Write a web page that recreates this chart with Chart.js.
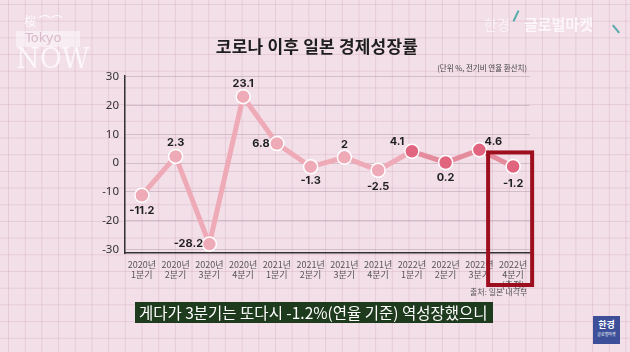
<!DOCTYPE html>
<html><head><meta charset="utf-8">
<script src="https://cdn.jsdelivr.net/npm/chart.js@4.4.0/dist/chart.umd.min.js"></script>
<style>
html,body{margin:0;padding:0;}
body{width:630px;height:352px;overflow:hidden;position:relative;
background-color:#f3dfe8;
background-image:linear-gradient(to right, rgba(205,165,185,0.35) 1px, transparent 1px),linear-gradient(to bottom, rgba(205,165,185,0.35) 1px, transparent 1px);
background-size:16.7px 16.7px;background-position:8px 4px;
font-family:"Noto Sans CJK KR","Noto Sans",sans-serif;}
#c{position:absolute;left:0;top:0;}
.t{position:absolute;white-space:nowrap;}
</style></head><body>
<canvas id="c" width="630" height="352"></canvas>
<div class="t" style="left:0;width:630px;top:33px;text-align:center;font-size:17px;font-weight:700;color:#1e1e1e;letter-spacing:0.2px;padding-left:2px">코로나 이후 일본 경제성장률</div>
<div class="t" style="right:103px;top:62px;font-size:7.5px;color:#444;">(단위 %, 전기비 연율 환산치)</div>
<div class="t" style="left:470px;top:286px;font-size:8px;color:#555;">출처: 일본 내각부</div>
<div class="t" style="left:135px;top:302px;width:358px;height:21px;background:#1f3b1d;color:#fff;font-size:15.5px;line-height:21px;padding-left:4px;box-sizing:border-box;">게다가 3분기는 또다시 -1.2%(연율 기준) 역성장했으니</div>
<div class="t" style="left:16px;top:31px;width:64px;height:16px;background:rgba(255,255,255,0.45);"></div>
<div class="t" style="left:24px;top:12px;font-size:12px;color:rgba(255,255,255,0.85);">桜 ⌒⌒</div>
<div class="t" style="left:25px;top:30px;font-size:13px;color:rgba(215,185,200,1);font-family:'DejaVu Sans',sans-serif;">Tokyo</div>
<div class="t" style="left:16px;top:45px;font-size:27px;color:rgba(255,255,255,0.7);font-family:'DejaVu Serif',serif;line-height:28px;">NOW</div>
<div class="t" style="left:484px;top:14px;font-size:14px;color:rgba(255,255,255,0.6);">한경</div>
<div class="t" style="left:515px;top:10px;width:2px;height:12px;background:#5aa;transform:rotate(25deg);"></div>
<div class="t" style="left:524px;top:13px;font-size:15px;font-weight:700;color:rgba(255,255,255,0.75);">글로벌마켓</div>
<div class="t" style="left:615px;top:24px;width:2px;height:10px;background:#5aa;transform:rotate(-40deg);"></div>
<div class="t" style="left:593px;top:316px;width:27px;height:28px;background:#3c4f98;color:#fff;text-align:center;">
<div style="font-size:9px;font-weight:700;line-height:12px;margin-top:3px;">한경</div>
<div style="font-size:4px;line-height:6px;">글로벌마켓</div></div>
<script>
const categories = [
  ["2020년","1분기"],["2020년","2분기"],["2020년","3분기"],["2020년","4분기"],
  ["2021년","1분기"],["2021년","2분기"],["2021년","3분기"],["2021년","4분기"],
  ["2022년","1분기"],["2022년","2분기"],["2022년","3분기"],["2022년","4분기","(추정)"]
];
const growth = [-11.2, 2.3, -28.2, 23.1, 6.8, -1.3, 2, -2.5, 4.1, 0.2, 4.6, -1.2];
const yTicks = [-30, -20, -10, 0, 10, 20, 30];
const valueLabels = ["-11.2","2.3","-28.2","23.1","6.8","-1.3","2","-2.5","4.1","0.2","4.6","-1.2"];

// style config (label offsets relative to points)
const labelOffsets = [[0,15],[0,-14],[-21,0],[0,-13],[-16,0],[0,14],[0,-13],[0,16],[-15,-10],[0,15],[14,-8],[0,17]];
const lightPink = '#eeaab6', darkPink = '#e2657f', darkLine = '#e48b9d';
const firstDark = 8;

const labelPlugin = {
  id:'vlabels',
  afterDatasetsDraw(chart){
    const ctx = chart.ctx;
    const meta = chart.getDatasetMeta(0);
    ctx.save();
    ctx.font = '700 11px Inter, "Noto Sans", sans-serif';
    ctx.fillStyle = '#1f1f1f';
    ctx.textAlign='center'; ctx.textBaseline='middle';
    meta.data.forEach((pt,i)=>{
      const [dx,dy] = labelOffsets[i];
      ctx.fillText(valueLabels[i], pt.x+dx, pt.y+dy);
    });
    ctx.restore();
  }
};
const boxPlugin = {
  id:'redbox',
  afterDraw(chart){
    const xs = chart.scales.x, ys = chart.scales.y, ctx = chart.ctx;
    const c = xs.getPixelForValue(categories.length-1);
    const l = c-25, r = c+19, t = ys.getPixelForValue(3.7), b = chart.chartArea.bottom+32;
    ctx.save();
    ctx.strokeStyle = '#9d0f1f'; ctx.lineWidth = 4;
    ctx.strokeRect(l, t, r-l, b-t);
    ctx.restore();
  }
};

new Chart(document.getElementById('c'), {
  type:'line',
  data:{labels:categories, datasets:[{
    data:growth,
    borderColor:lightPink, borderWidth:5,
    pointRadius:7, pointHoverRadius:7,
    pointBackgroundColor: growth.map((v,i)=> i>=firstDark ? darkPink : lightPink),
    pointBorderColor:'#ffffff', pointBorderWidth:1.5,
    tension:0,
    segment:{borderColor: s => s.p0DataIndex >= firstDark ? darkLine : lightPink}
  }]},
  options:{
    responsive:false, animation:false,
    layout:{padding:{left:80, right:100, top:76, bottom:59}},
    plugins:{legend:{display:false}, tooltip:{enabled:false}},
    scales:{
      x:{
        offset:true,
        grid:{display:false, drawTicks:false},
        border:{display:true, color:'#333', width:1.5},
        ticks:{padding:6, color:'#555', font:{size:9, family:'"Noto Sans CJK KR"', lineHeight:1.15}, maxRotation:0, autoSkip:false},
        afterFit(s){ s.height = 40; }
      },
      y:{
        min:-31.3, max:30.3,
        afterBuildTicks(s){ s.ticks = yTicks.map(v=>({value:v})); },
        grid:{color:'rgba(150,130,140,0.35)', lineWidth:1, drawTicks:false},
        border:{display:true, color:'#333', width:1.5},
        ticks:{padding:6, color:'#333', font:{size:11.5, family:'"Noto Sans","Noto Sans CJK KR"'}},
        afterFit(s){ s.width = 45; }
      }
    }
  },
  plugins:[labelPlugin, boxPlugin]
});
</script>
</body></html>
